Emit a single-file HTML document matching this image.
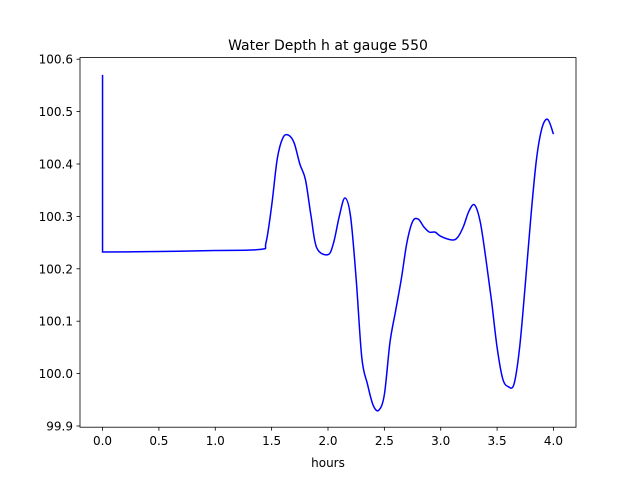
<!DOCTYPE html>
<html><head><meta charset="utf-8"><style>
body{margin:0;background:#fff}
svg text{font-family:"DejaVu Sans","Liberation Sans",sans-serif;fill:#000}
</style></head><body>
<svg id="chart" width="640" height="480" xmlns="http://www.w3.org/2000/svg">
<rect width="640" height="480" fill="#fff"/>
<text x="328" y="50" font-size="14" text-anchor="middle">Water Depth h at gauge 550</text>
<g id="xt"></g>
<g id="yt"></g>
<path id="line" fill="none" stroke="#0000ff" stroke-width="1.5"/>
<rect x="80" y="57.6" width="496" height="369.6" fill="none" stroke="#000" stroke-width="0.8"/>
<text x="328" y="467" font-size="12" text-anchor="middle">hours</text>
</svg>
<script>
const hours=[0,0,0.5,1.0,1.4,1.45,1.5,1.55,1.6,1.65,1.7,1.75,1.8,1.85,1.9,2.0,2.05,2.1,2.15,2.2,2.25,2.3,2.35,2.4,2.45,2.5,2.55,2.6,2.65,2.7,2.75,2.8,2.85,2.9,2.95,3.0,3.1,3.15,3.2,3.25,3.3,3.35,3.4,3.45,3.5,3.55,3.6,3.65,3.7,3.75,3.8,3.85,3.9,3.95,4.0];
const depth=[100.57,100.232,100.233,100.235,100.237,100.25,100.32,100.41,100.45,100.455,100.44,100.40,100.37,100.30,100.24,100.227,100.25,100.30,100.335,100.30,100.18,100.03,99.98,99.94,99.93,99.96,100.06,100.12,100.18,100.25,100.29,100.295,100.28,100.27,100.27,100.262,100.255,100.26,100.28,100.31,100.322,100.29,100.22,100.14,100.05,99.99,99.975,99.98,100.05,100.17,100.30,100.41,100.47,100.485,100.457];
const xTicks=[0,0.5,1,1.5,2,2.5,3,3.5,4];
const yTicks=[99.9,100.0,100.1,100.2,100.3,100.4,100.5,100.6];
const NS="http://www.w3.org/2000/svg";
const X=v=>80+(v+0.2)/4.4*496;
const Y=v=>426-(v-99.9)*524;
const xt=document.getElementById('xt'),yt=document.getElementById('yt');
function mk(t,a){const e=document.createElementNS(NS,t);for(const k in a)e.setAttribute(k,a[k]);return e;}
xTicks.forEach(t=>{
 const l=mk('line',{x1:X(t),x2:X(t),y1:427.2,y2:430.7,stroke:'#000','stroke-width':0.8});
 
 
 xt.appendChild(l);
 const s=mk('text',{x:X(t),y:445,'font-size':12,'text-anchor':'middle'});
 
 
 s.textContent=t.toFixed(1);xt.appendChild(s);
});
yTicks.forEach(t=>{
 const l=mk('line',{x1:76.5,x2:80,y1:Y(t),y2:Y(t),stroke:'#000','stroke-width':0.8});
 
 
 yt.appendChild(l);
 const s=mk('text',{x:73,y:Y(t)+4.5,'font-size':12,'text-anchor':'end'});
 
 
 s.textContent=t.toFixed(1);yt.appendChild(s);
});
// smooth path via Catmull-Rom
const P=hours.map((h,i)=>[X(h),Y(depth[i])]);
let d='M'+P[0][0]+','+P[0][1];
for(let i=0;i<P.length-1;i++){
 const p0=P[Math.max(i-1,0)],p1=P[i],p2=P[i+1],p3=P[Math.min(i+2,P.length-1)];
 if(i===0){d+=' L'+p2[0]+','+p2[1];continue;}
 const c1=[p1[0]+(p2[0]-p0[0])/6,p1[1]+(p2[1]-p0[1])/6];
 const c2=[p2[0]-(p3[0]-p1[0])/6,p2[1]-(p3[1]-p1[1])/6];
 if(i===1){c1[0]=p1[0];c1[1]=p1[1];}
 d+=' C'+c1+' '+c2+' '+p2;
}
document.getElementById('line').setAttribute('d',d);
</script>
</body></html>
